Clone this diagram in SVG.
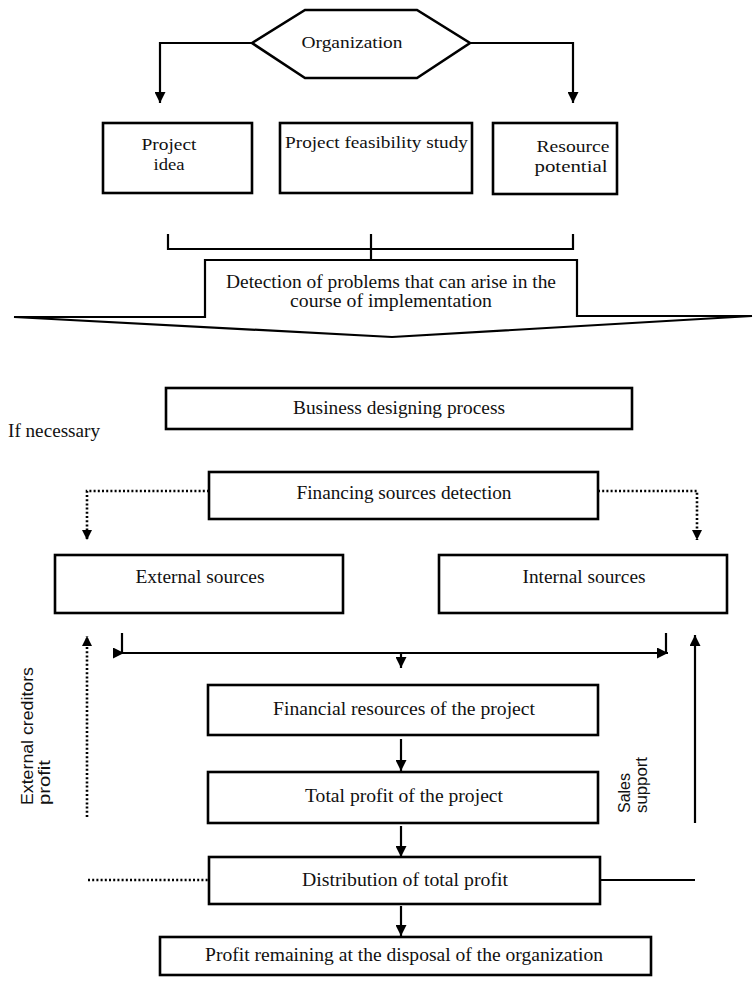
<svg xmlns="http://www.w3.org/2000/svg" width="754" height="999" viewBox="0 0 754 999">
  <defs>
    <marker id="head" viewBox="0 0 10 10" refX="10" refY="5" markerWidth="5" markerHeight="5" markerUnits="strokeWidth" orient="auto">
      <path d="M0,0 L10,5 L0,10 Z" fill="#000"/>
    </marker>
    <marker id="headS" viewBox="0 0 10 10" refX="10" refY="5" markerWidth="4" markerHeight="4" markerUnits="strokeWidth" orient="auto">
      <path d="M0,0 L10,5 L0,10 Z" fill="#000"/>
    </marker>
  </defs>
  <style>
    .box { fill: #fff; stroke: #000; stroke-width: 2.6; }
    .thin { fill: #fff; stroke: #000; stroke-width: 2.2; }
    .line { fill: none; stroke: #000; stroke-width: 2.2; }
    .dot { fill: none; stroke: #000; stroke-width: 2.6; stroke-dasharray: 2 2.2; }
    .t { font-family: "Liberation Serif", "Times New Roman", serif; font-size: 18px; fill: #111; text-anchor: middle; }
    .ts { font-family: "Liberation Serif", "Times New Roman", serif; font-size: 17px; fill: #111; text-anchor: middle; }
    .side { font-family: "Liberation Sans", Arial, sans-serif; font-size: 16px; fill: #111; }
  </style>
  <rect width="754" height="999" fill="#fff"/>

  <!-- connectors -->
  <g id="connectors">
    <path class="line" d="M252,43 H160 V103" marker-end="url(#head)"/>
    <path class="line" d="M470,43 H573 V103" marker-end="url(#head)"/>
    <path class="line" d="M168,234 V249 H573 V234"/>
    <path class="line" d="M371,234 V261"/>
    <path class="dot" d="M209,491 H87 V540" marker-end="url(#headS)"/>
    <path class="dot" d="M598,491 H697 V540" marker-end="url(#headS)"/>
    <path class="line" d="M122,633 V653 H128"/>
    <path class="line" d="M666,633 V653 H660"/>
    <path class="line" d="M124,653 H668" marker-start="url(#head)" marker-end="url(#head)"/>
    <path class="line" d="M401,654 V668" marker-end="url(#head)"/>
    <path class="line" d="M401,739 V771" marker-end="url(#head)"/>
    <path class="line" d="M401,826 V857" marker-end="url(#head)"/>
    <path class="line" d="M401,906 V936" marker-end="url(#head)"/>
    <path class="dot" d="M87,817 V636" marker-end="url(#headS)"/>
    <path class="line" d="M695,823 V635" marker-end="url(#head)"/>
    <path class="dot" d="M88,880 H209"/>
    <path class="line" d="M600,880 H695"/>
  </g>

  <g id="organization">
    <polygon class="box" points="252,43 305,10 417,10 470,43 417,78 305,78"/>
    <text class="ts" x="352" y="48" textLength="101" lengthAdjust="spacingAndGlyphs">Organization</text>
  </g>

  <g id="project-idea">
    <rect class="box" x="103" y="123" width="149" height="70"/>
    <text class="ts" x="169" y="150" textLength="55" lengthAdjust="spacingAndGlyphs">Project</text>
    <text class="ts" x="169" y="170" textLength="31" lengthAdjust="spacingAndGlyphs">idea</text>
  </g>

  <g id="feasibility-study">
    <rect class="box" x="280" y="123" width="192" height="70"/>
    <text class="ts" x="285" y="148" style="text-anchor:start" textLength="183" lengthAdjust="spacingAndGlyphs">Project feasibility study</text>
  </g>

  <g id="resource-potential">
    <rect class="box" x="493" y="123" width="124" height="71"/>
    <text class="ts" x="573" y="152" textLength="73" lengthAdjust="spacingAndGlyphs">Resource</text>
    <text class="ts" x="571" y="172" textLength="73" lengthAdjust="spacingAndGlyphs">potential</text>
  </g>

  <g id="problem-detection">
    <path class="thin" d="M14,317 L205,317 L205,260 L577,260 L577,316 L752,316 L392,337 Z"/>
    <text class="t" x="391" y="288" textLength="330" lengthAdjust="spacingAndGlyphs">Detection of problems that can arise in the</text>
    <text class="t" x="391" y="307" textLength="202" lengthAdjust="spacingAndGlyphs">course of implementation</text>
  </g>

  <g id="business-design">
    <rect class="box" x="166" y="388" width="466" height="41"/>
    <text class="t" x="399" y="414" textLength="212" lengthAdjust="spacingAndGlyphs">Business designing process</text>
  </g>

  <g id="if-necessary">
    <text class="t" x="8" y="437" style="text-anchor:start" textLength="92" lengthAdjust="spacingAndGlyphs">If necessary</text>
  </g>

  <g id="financing-sources">
    <rect class="box" x="209" y="472" width="389" height="47"/>
    <text class="t" x="404" y="499" textLength="215" lengthAdjust="spacingAndGlyphs">Financing sources detection</text>
  </g>

  <g id="external-sources">
    <rect class="box" x="55" y="555" width="288" height="58"/>
    <text class="t" x="200" y="583" textLength="129" lengthAdjust="spacingAndGlyphs">External sources</text>
  </g>

  <g id="internal-sources">
    <rect class="box" x="439" y="555" width="288" height="58"/>
    <text class="t" x="584" y="583" textLength="123" lengthAdjust="spacingAndGlyphs">Internal sources</text>
  </g>

  <g id="financial-resources">
    <rect class="box" x="208" y="685" width="390" height="50"/>
    <text class="t" x="404" y="715" textLength="262" lengthAdjust="spacingAndGlyphs">Financial resources of the project</text>
  </g>

  <g id="total-profit">
    <rect class="box" x="208" y="772" width="390" height="51"/>
    <text class="t" x="404" y="802" textLength="198" lengthAdjust="spacingAndGlyphs">Total profit of the project</text>
  </g>

  <g id="profit-distribution">
    <rect class="box" x="209" y="857" width="391" height="47"/>
    <text class="t" x="405" y="886" textLength="206" lengthAdjust="spacingAndGlyphs">Distribution of total profit</text>
  </g>

  <g id="retained-profit">
    <rect class="box" x="160" y="937" width="491" height="38"/>
    <text class="t" x="404" y="961" textLength="398" lengthAdjust="spacingAndGlyphs">Profit remaining at the disposal of the organization</text>
  </g>

  <g id="creditors-label">
    <text class="side" transform="translate(33,805) rotate(-90)" textLength="138" lengthAdjust="spacingAndGlyphs">External creditors</text>
    <text class="side" transform="translate(50,805) rotate(-90)" textLength="45" lengthAdjust="spacingAndGlyphs">profit</text>
  </g>

  <g id="sales-label">
    <text class="side" transform="translate(630,813) rotate(-90)" textLength="40" lengthAdjust="spacingAndGlyphs">Sales</text>
    <text class="side" transform="translate(647,813) rotate(-90)" textLength="56" lengthAdjust="spacingAndGlyphs">support</text>
  </g>
</svg>
